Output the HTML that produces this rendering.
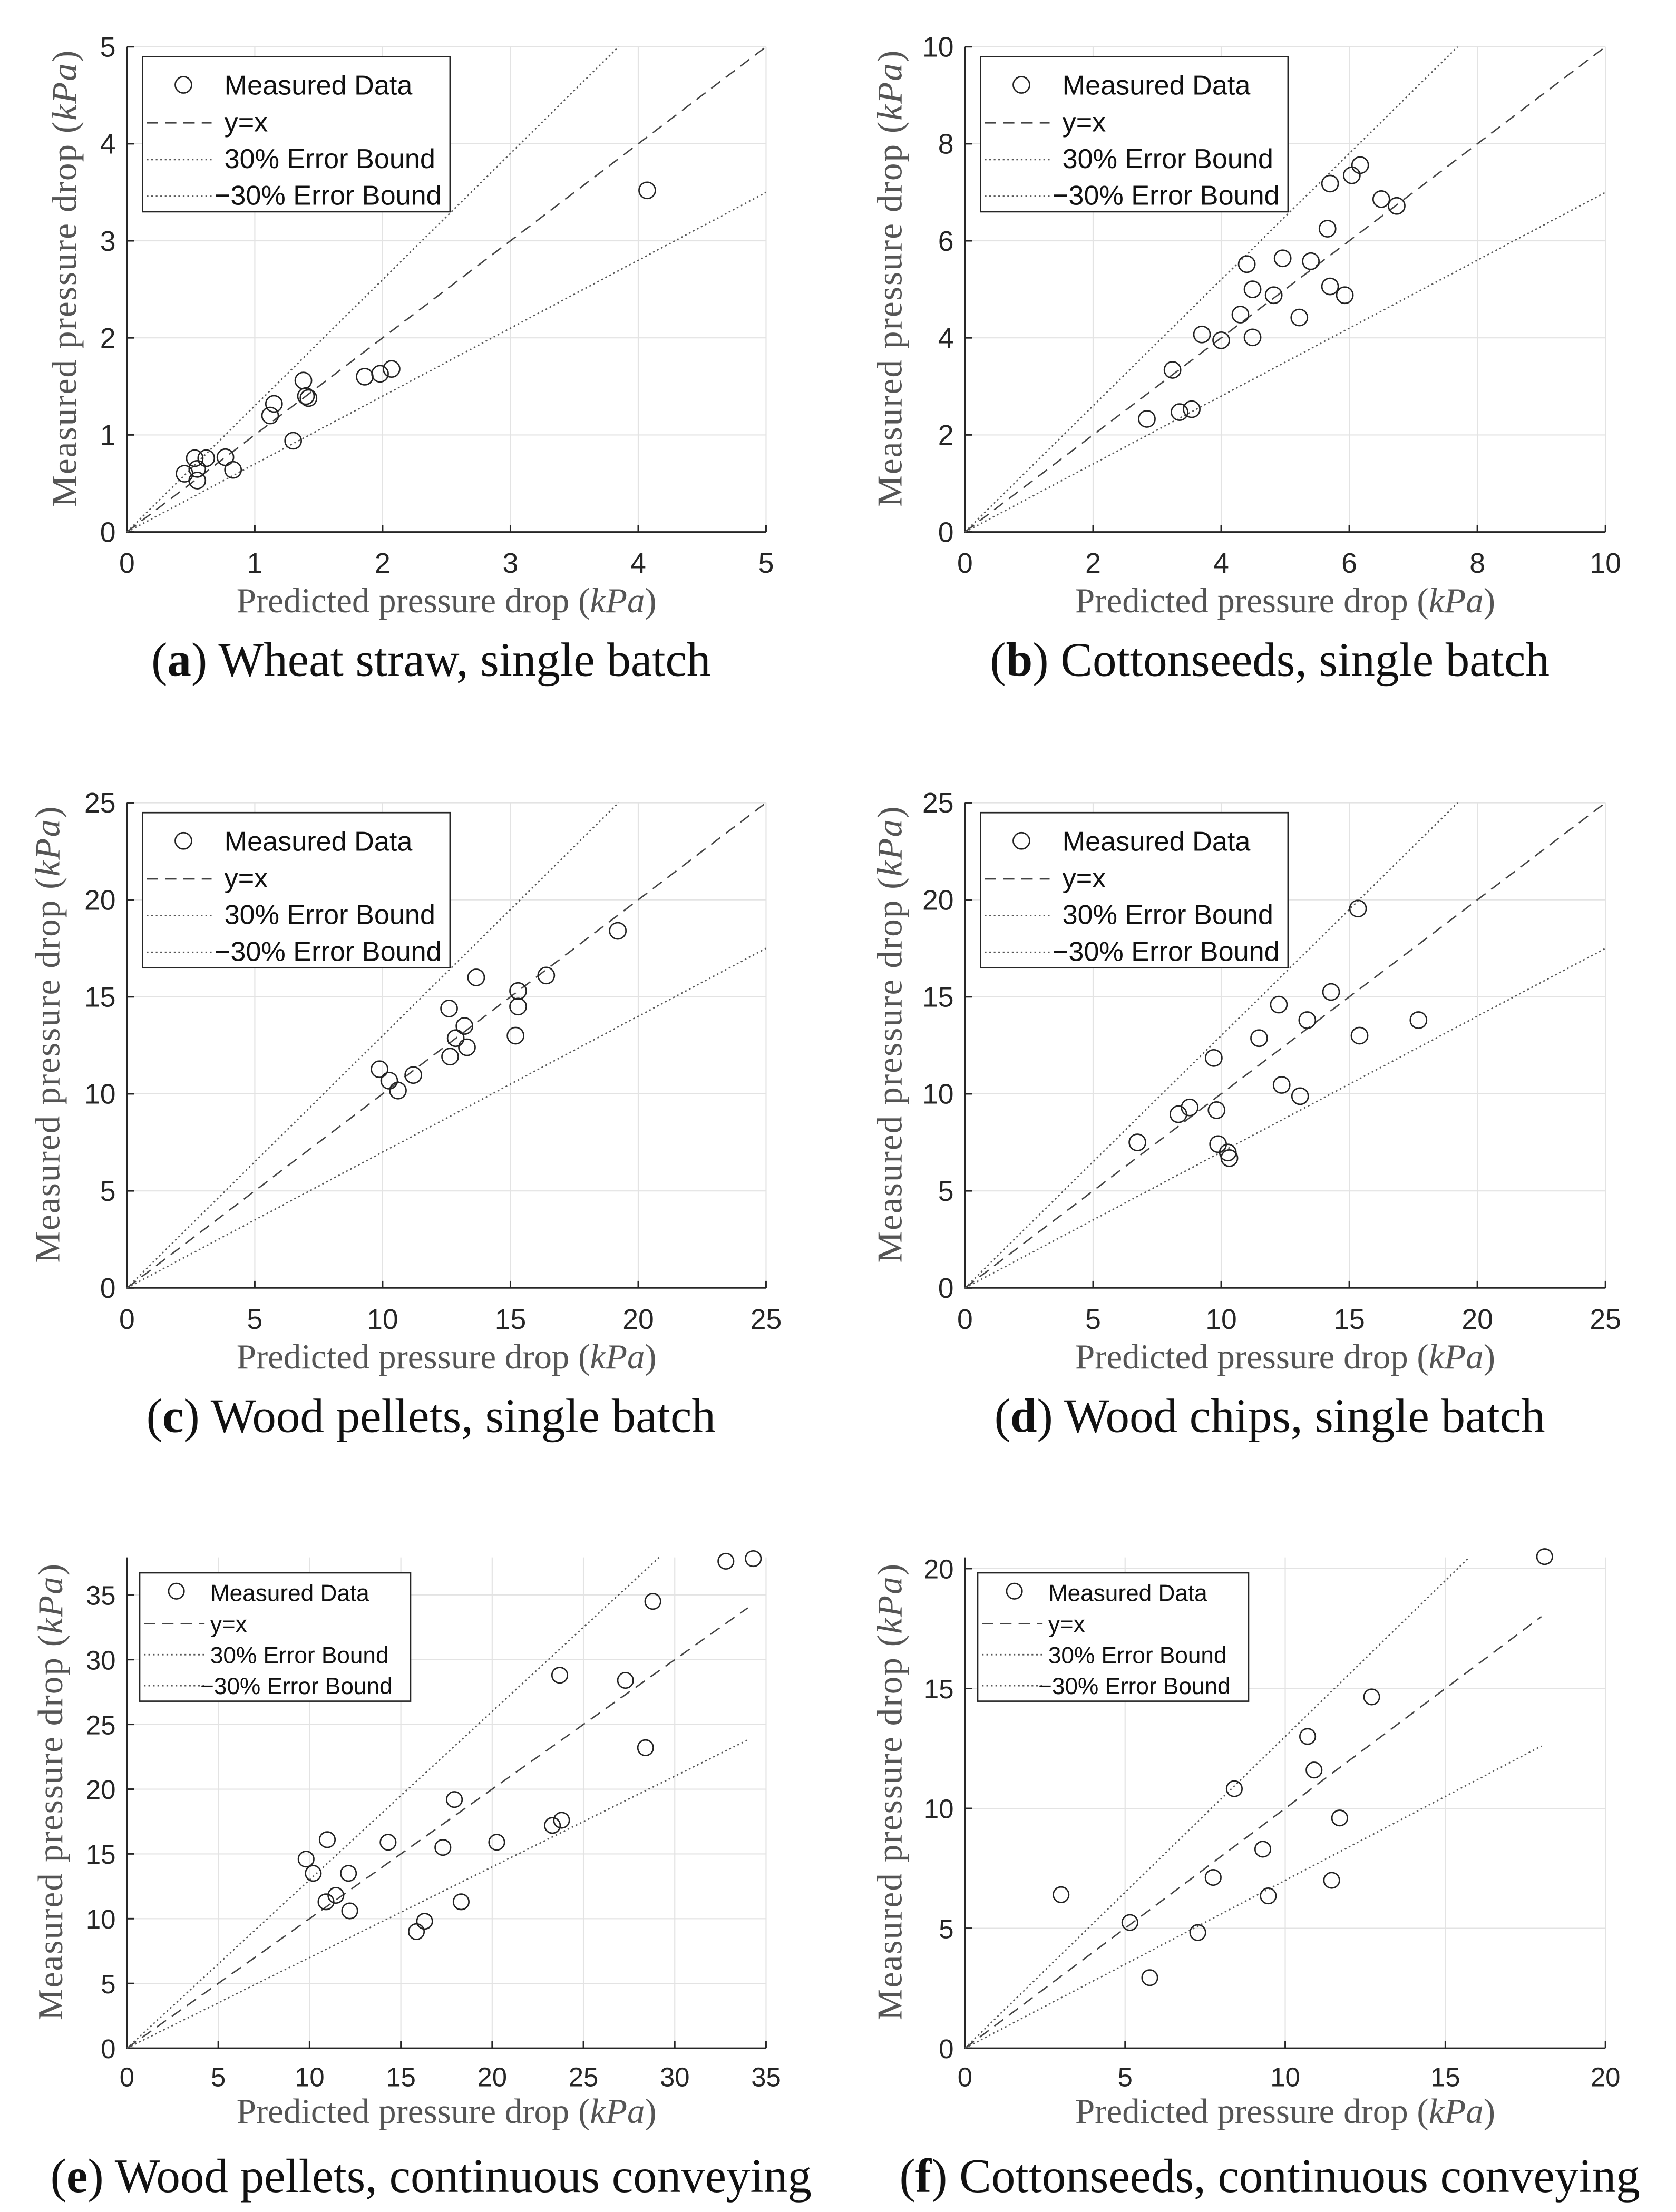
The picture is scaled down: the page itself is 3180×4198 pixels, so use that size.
<!DOCTYPE html>
<html><head><meta charset="utf-8"><style>
html,body{margin:0;padding:0;background:#fff}
svg{display:block}
</style></head><body>
<svg id="fig" xmlns="http://www.w3.org/2000/svg" width="3180" height="4198" viewBox="0 0 1188 1568">
<rect width="1188" height="1568" fill="#fff"/>
</svg>
<script>
const ptsAx=[0.45,0.53,0.55,0.55,0.62,0.77,0.83,1.12,1.15,1.3,1.38,1.4,1.42,1.86,1.98,2.07,4.07];
const ptsAy=[0.6,0.76,0.65,0.53,0.76,0.77,0.64,1.2,1.32,0.94,1.56,1.4,1.38,1.6,1.63,1.68,3.52];
const ptsBx=[2.84,3.24,3.35,3.54,3.7,4.0,4.3,4.4,4.49,4.49,4.82,4.96,5.22,5.4,5.66,5.7,5.7,5.93,6.04,6.17,6.5,6.74];
const ptsBy=[2.33,3.34,2.47,2.53,4.07,3.95,4.48,5.52,5.0,4.01,4.88,5.64,4.42,5.58,6.25,7.18,5.06,4.88,7.35,7.56,6.86,6.72];
const ptsCx=[9.88,10.26,10.6,11.2,12.6,12.64,12.86,13.2,13.3,13.66,15.3,15.3,15.2,16.4,19.2];
const ptsCy=[11.27,10.68,10.17,10.97,14.4,11.92,12.87,13.5,12.4,16.0,15.3,14.5,13.0,16.1,18.4];
const ptsDx=[6.73,8.33,8.77,9.71,9.82,9.88,10.26,10.32,11.48,12.25,12.36,13.08,13.36,14.29,15.34,15.4,17.7];
const ptsDy=[7.5,8.95,9.3,11.85,9.16,7.41,6.98,6.69,12.87,14.6,10.46,9.88,13.8,15.25,19.55,13.0,13.8];
const ptsEx=[9.81,10.2,10.97,10.9,11.44,12.13,12.2,14.3,15.85,16.3,17.3,17.93,18.3,20.25,23.3,23.8,23.7,27.3,28.4,28.8,32.8,34.3];
const ptsEy=[14.6,13.5,16.1,11.3,11.8,13.5,10.6,15.9,9.0,9.8,15.5,19.2,11.3,15.9,17.2,17.6,28.8,28.4,23.2,34.5,37.6,37.8];
const ptsFx=[3.0,5.15,5.77,7.27,7.75,8.41,9.3,9.47,10.7,10.9,11.7,11.45,12.7,18.1];
const ptsFy=[6.4,5.24,2.94,4.82,7.12,10.82,8.3,6.35,13.0,11.6,9.6,7.0,14.65,20.5];
const ticksAB1=[0,1,2,3,4,5], ticksB=[0,2,4,6,8,10], ticks25=[0,5,10,15,20,25], ticks35=[0,5,10,15,20,25,30,35], ticksFy=[0,5,10,15,20], ticksFx=[0,5,10,15,20];

const NS="http://www.w3.org/2000/svg";
const svg=document.getElementById('fig');
function mk(tag,attrs,parent,text){const e=document.createElementNS(NS,tag);for(const k in attrs)e.setAttribute(k,attrs[k]);if(text!==undefined)e.textContent=text;(parent||svg).appendChild(e);return e;}

const panels=[
 {id:'a',x0:90,x1:543,yt:33,yb:377,xmax:5,ymax:5,xt:ticksAB1,yt_:ticksAB1,px:ptsAx,py:ptsAy,lmax:5,cap:['a',') Wheat straw, single batch'],ylx:46,small:false},
 {id:'b',x0:684,x1:1138,yt:33,yb:377,xmax:10,ymax:10,xt:ticksB,yt_:ticksB,px:ptsBx,py:ptsBy,lmax:10,cap:['b',') Cottonseeds, single batch'],ylx:631,small:false},
 {id:'c',x0:90,x1:543,yt:569,yb:913,xmax:25,ymax:25,xt:ticks25,yt_:ticks25,px:ptsCx,py:ptsCy,lmax:25,cap:['c',') Wood pellets, single batch'],ylx:34,small:false},
 {id:'d',x0:684,x1:1138,yt:569,yb:913,xmax:25,ymax:25,xt:ticks25,yt_:ticks25,px:ptsDx,py:ptsDy,lmax:25,cap:['d',') Wood chips, single batch'],ylx:631,small:false},
 {id:'e',x0:90,x1:543,yt:1104,yb:1452,xmax:35,ymax:37.9,xt:ticks35,yt_:ticks35,px:ptsEx,py:ptsEy,lmax:34,cap:['e',') Wood pellets, continuous conveying'],ylx:36,small:true},
 {id:'f',x0:684,x1:1138,yt:1104,yb:1452,xmax:20,ymax:20.47,xt:ticksFx,yt_:ticksFy,px:ptsFx,py:ptsFy,lmax:18,cap:['f',') Cottonseeds, continuous conveying'],ylx:631,small:true}
];

panels.forEach(p=>{
 const g=mk('g',{});
 
 
 const sx=v=>p.x0+(p.x1-p.x0)*v/p.xmax;
 const sy=v=>p.yb-(p.yb-p.yt)*v/p.ymax;
 p.xt.forEach(t=>{if(t>0){const l=mk('line',{x1:sx(t),x2:sx(t),y1:p.yt,y2:p.yb,stroke:'#e3e3e3','stroke-width':0.8},g);}});
 p.yt_.forEach(t=>{if(t>0){const l=mk('line',{x1:p.x0,x2:p.x1,y1:sy(t),y2:sy(t),stroke:'#e3e3e3','stroke-width':0.8},g);}});
 const ax=mk('path',{d:`M${p.x0},${p.yt}V${p.yb}H${p.x1}`,fill:'none',stroke:'#262626','stroke-width':1.1},g);
 
 const fs=p.small?19:20;
 p.xt.forEach(t=>{
  mk('line',{x1:sx(t),x2:sx(t),y1:p.yb,y2:p.yb-5,stroke:'#262626','stroke-width':1.1},g);
  const tx=mk('text',{x:sx(t),y:p.yb+(p.small?27:29),'text-anchor':'middle','font-family':'Liberation Sans, sans-serif','font-size':fs,fill:'#262626'},g,String(t));
  
 });
 p.yt_.forEach(t=>{
  mk('line',{x1:p.x0,x2:p.x0+5,y1:sy(t),y2:sy(t),stroke:'#262626','stroke-width':1.1},g);
  const tx=mk('text',{x:p.x0-8,y:sy(t)+7,'text-anchor':'end','font-family':'Liberation Sans, sans-serif','font-size':fs,fill:'#262626'},g,String(t));
  
 });
 const l1=mk('line',{x1:sx(0),y1:sy(0),x2:sx(p.lmax),y2:sy(p.lmax),stroke:'#444','stroke-width':1,'stroke-dasharray':'8,5'},g);
 
 const up=Math.min(p.lmax,p.ymax/1.3);
 const l2=mk('line',{x1:sx(0),y1:sy(0),x2:sx(up),y2:sy(up*1.3),stroke:'#555','stroke-width':1,'stroke-dasharray':'1.2,2'},g);
 
 const l3=mk('line',{x1:sx(0),y1:sy(0),x2:sx(p.lmax),y2:sy(p.lmax*0.7),stroke:'#555','stroke-width':1,'stroke-dasharray':'1.2,2'},g);
 
 const r=p.small?5.5:5.8;
 p.px.forEach((x,i)=>{
  const c=mk('circle',{cx:sx(x),cy:sy(p.py[i]),r:r,fill:'none',stroke:'#222','stroke-width':1},g);
  
 });
 const lg=mk('g',{},g);
 
 let bx,bw,bh,rows,tx0,mx,lx0,lx1,lfs;
 if(!p.small){bx=p.x0+11;bw=218;bh=110;rows=[p.yt+34,p.yt+60,p.yt+86,p.yt+112];tx0=p.x0+69;mx=p.x0+40;lx0=p.x0+14;lx1=p.x0+60;lfs=19.5;}
 else{bx=p.x0+9;bw=192;bh=91;rows=[p.yt+31,p.yt+53,p.yt+75,p.yt+97];tx0=p.x0+59;mx=p.x0+35;lx0=p.x0+12;lx1=p.x0+55;lfs=16.5;}
 const by=p.yt+(p.small?11:7);
 mk('rect',{x:bx,y:by,width:bw,height:bh,fill:'#fff',stroke:'#262626','stroke-width':1},lg);
 const labels=['Measured Data','y=x','30% Error Bound','\u221230% Error Bound'];
 mk('circle',{cx:mx,cy:rows[0]-7,r:r,fill:'none',stroke:'#222','stroke-width':1},lg);
 mk('line',{x1:lx0,x2:lx1,y1:rows[1]-6,y2:rows[1]-6,stroke:'#444','stroke-width':1,'stroke-dasharray':'8,5'},lg);
 mk('line',{x1:lx0,x2:lx1,y1:rows[2]-6,y2:rows[2]-6,stroke:'#555','stroke-width':1,'stroke-dasharray':'1.2,2'},lg);
 mk('line',{x1:lx0,x2:lx1,y1:rows[3]-6,y2:rows[3]-6,stroke:'#555','stroke-width':1,'stroke-dasharray':'1.2,2'},lg);
 labels.forEach((s,i)=>{
  const t=mk('text',{x:i===3?tx0-7:tx0,y:rows[i],'font-family':'Liberation Sans, sans-serif','font-size':lfs,fill:'#111'},lg,s);
  
 });
 const xc=(p.x0+p.x1)/2;
 const xl=mk('text',{x:xc,y:p.yb+(p.small?53:57),'text-anchor':'middle','font-family':'Liberation Serif, serif','font-size':25,fill:'#555'},g);
 
 xl.innerHTML='Predicted pressure drop (<tspan font-style="italic">kPa</tspan>)';
 const yc=(p.yt+p.yb)/2-8;
 const yl=mk('text',{x:0,y:0,transform:`translate(${p.ylx+8},${yc}) rotate(-90)`,'text-anchor':'middle','font-family':'Liberation Serif, serif','font-size':25,fill:'#555','letter-spacing':0.8},g);
 
 yl.innerHTML='Measured pressure drop (<tspan font-style="italic">kPa</tspan>)';
 const cp=mk('text',{x:xc-11,y:p.yb+102,'text-anchor':'middle','font-family':'Liberation Serif, serif','font-size':34,fill:'#111'},g);
 
 cp.innerHTML='(<tspan font-weight="bold">'+p.cap[0]+'</tspan>'+p.cap[1];
});
</script>
</body></html>
